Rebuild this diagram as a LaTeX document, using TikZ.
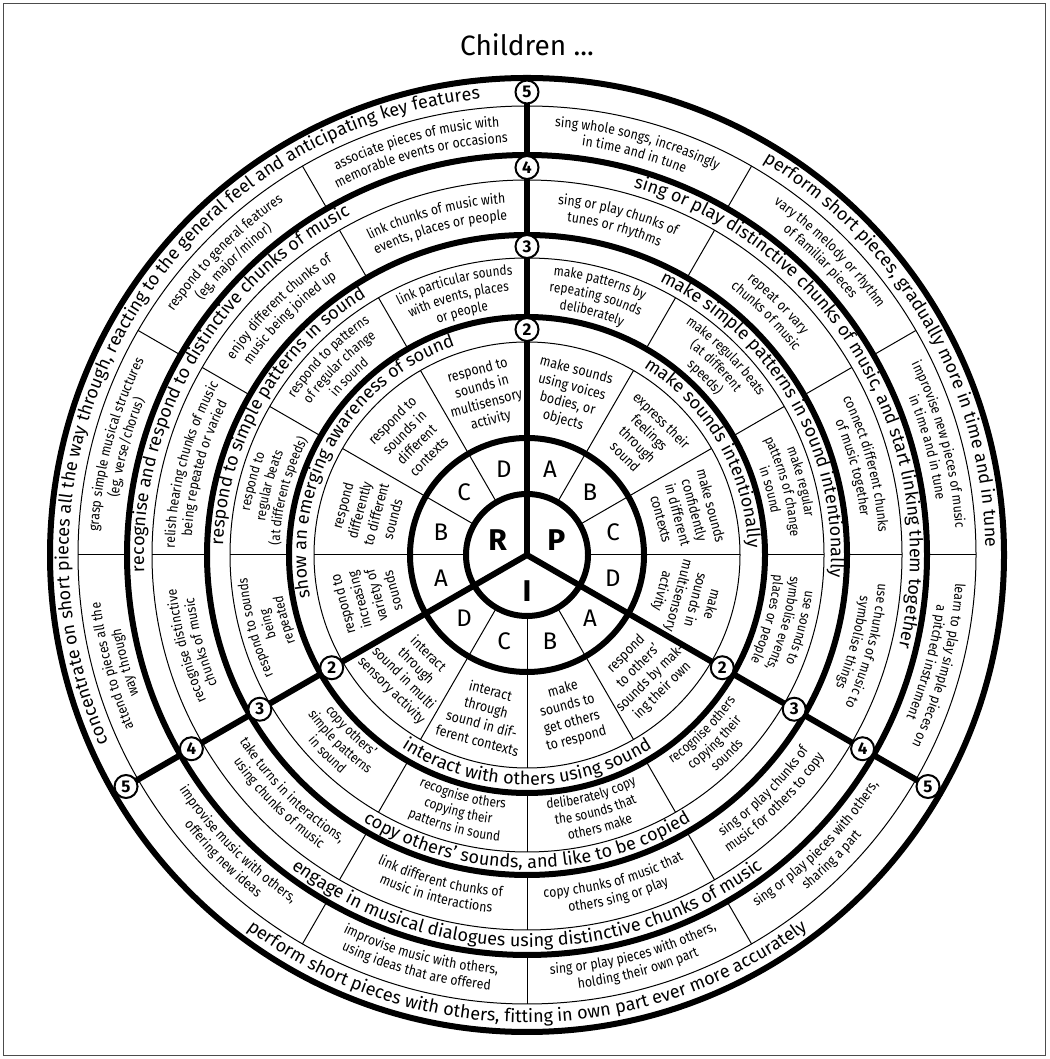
\documentclass[tikz,border=0pt]{standalone}
\usepackage{fontspec}
\setmainfont{Fira Sans}
\newfontfamily\condA{Fira Sans}[FakeStretch=0.88]
\newfontfamily\condB{Fira Sans}[FakeStretch=0.86]
\newfontfamily\condC{Fira Sans}[FakeStretch=0.88]
\usetikzlibrary{decorations.text}
\newcommand\fBand{\fontsize{18}{20}\selectfont}
\newcommand\fCellII{\condA\fontsize{14.2}{17.2}\selectfont}
\newcommand\fCellIII{\condB\fontsize{13.8}{16}\selectfont}
\newcommand\fCellIV{\condC\fontsize{14}{16}\selectfont}
\newcommand\fCellV{\condC\fontsize{14}{16}\selectfont}
% one line of text along an arc: #1 dir (1 = clockwise, tops outward; -1 = ccw, tops inward)
% #2 centre angle, #3 baseline radius, #4 half span, #5 font, #6 text
\newcommand\arcln[6]{%
  \pgfmathsetmacro\aS{#2+(#1)*(#4)}%
  \pgfmathsetmacro\aE{#2-(#1)*(#4)}%
  \path[decorate,decoration={text along path,text align=center,text={|#5|#6}}]
    (\aS:#3) arc[start angle=\aS,end angle=\aE,radius=#3];}
\newcommand\celline[4]{%
  \pgfmathsetmacro\rb{\rmid+(#1)*((#3)*\ls-\xh)}%
  \arcln{#1}{#2}{\rb}{\hs}{\cf}{#4}}
\newcommand\ctwo[4]{\celline{#1}{#2}{0.5}{#3}\celline{#1}{#2}{-0.5}{#4}}
\newcommand\cthree[5]{\celline{#1}{#2}{1}{#3}\celline{#1}{#2}{0}{#4}\celline{#1}{#2}{-1}{#5}}
\begin{document}
\begin{tikzpicture}[x=1pt,y=1pt,
  thickln/.style={line width=6pt},
  thinln/.style={line width=1pt},
  badge/.style={circle,draw,line width=2pt,fill=white,inner sep=0pt,minimum size=23pt,
    font=\fontsize{17}{17}\selectfont\bfseries},
  letter/.style={font=\fontsize{24}{24}\selectfont},
  core/.style={font=\fontsize{30}{30}\selectfont\bfseries},
  cellII/.style={align=center,font=\fCellII}]
\useasboundingbox (0,0) rectangle (1049,1059);
\draw[black!70,line width=1.5pt] (3.5,3.5) rectangle (1045.5,1055.5);
\node[font=\fontsize{28}{32}\selectfont] (title) at (527,1014) {Children ...};
\begin{scope}[shift={(527,504)}]
% thin circles and dividers
\foreach \r in {213,297,375,449} \draw[thinln] (0,0) circle[radius=\r];
\foreach \a in {0,30,60,120,150,180,240,270,300} {
  \draw[thinln] (\a:61) -- (\a:213);
  \draw[thinln] (\a:238) -- (\a:297);
  \draw[thinln] (\a:320) -- (\a:375);
  \draw[thinln] (\a:400) -- (\a:449);
}
% thick circles and spokes
\foreach \r in {61,117,238,320,400,477} \draw[thickln] (0,0) circle[radius=\r];
\foreach \a in {90,210,330} \draw[thickln,line cap=round] (0,0) -- (\a:477);
% badges
\foreach \a in {90,210,330} {
  \node[badge] (b2-\a) at (\a:225.5) {2};
  \node[badge] (b3-\a) at (\a:308.5) {3};
  \node[badge] (b4-\a) at (\a:387.5) {4};
  \node[badge] (b5-\a) at (\a:463) {5};
}
% core
\node[core] (R) at (153:33) {R};
\node[core] (P) at (27:33) {P};
\node[core] (I) at (270:36) {I};
\foreach \a/\l [count=\i] in {195/A,165/B,135/C,105/D,75/A,45/B,15/C,-15/D,-45/A,-75/B,-105/C,-135/D}
  \node[letter] (L\i) at (\a:89) {\l};
% level 2 cells
\node[cellII,rotate=105] (c2ra) at (195:165) {respond to\\increasing\\variety of\\sounds};
\node[cellII,rotate=75] (c2rb) at (165:165) {respond\\differently\\to different\\sounds};
\node[cellII,rotate=45] (c2rc) at (135:165) {respond to\\sounds in\\different\\contexts};
\node[cellII,rotate=15] (c2rd) at (105:165) {respond to\\sounds in\\multisensory\\activity};
\node[cellII,rotate=-15] (c2pa) at (75:165) {make sounds\\using voices\\bodies, or\\objects};
\node[cellII,rotate=-45] (c2pb) at (45:165) {express their\\feelings\\through\\sound};
\node[cellII,rotate=-75] (c2pc) at (15:165) {make sounds\\confidently\\in different\\contexts};
\node[cellII,rotate=-105] (c2pd) at (-15:165) {make\\sounds in\\multisensory\\activity};
\node[cellII,rotate=45] (c2ia) at (-45:166) {respond\\to others’\\sounds by mak-\\ing their own};
\node[cellII,rotate=15] (c2ib) at (-75:165) {make\\sounds to\\get others\\to respond};
\node[cellII,rotate=-15] (c2ic) at (-105:166) {interact\\through\\sound in dif-\\ferent contexts};
\node[cellII,rotate=-45] (c2id) at (-135:166) {interact\\through\\sound in multi\\sensory activity};
% band labels
\arcln{1}{150}{458.5}{57}{\fBand}{concentrate on short pieces all the way through, reacting to the general feel and anticipating key features}
\arcln{1}{30}{458.5}{57}{\fBand}{perform short pieces, gradually more in time and in tune}
\arcln{-1}{270}{467.5}{57}{\fBand}{perform short pieces with others, fitting in own part ever more accurately}
\arcln{1}{150}{383}{57}{\fBand}{recognise and respond to distinctive chunks of music}
\arcln{1}{30}{383}{57}{\fBand}{sing or play distinctive chunks of music, and start linking them together}
\arcln{-1}{270}{392}{57}{\fBand}{engage in musical dialogues using distinctive chunks of music}
\arcln{1}{150}{304}{57}{\fBand}{respond to simple patterns in sound}
\arcln{1}{30}{304}{57}{\fBand}{make simple patterns in sound intentionally}
\arcln{-1}{270}{313}{57}{\fBand}{copy others’ sounds, and like to be copied}
\arcln{1}{150}{221}{57}{\fBand}{show an emerging awareness of sound}
\arcln{1}{30}{221}{57}{\fBand}{make sounds intentionally}
\arcln{-1}{270}{230}{57}{\fBand}{interact with others using sound}
% level 3 cells
\def\rmid{267.5}\def\ls{16.5}\def\xh{3.4}\def\hs{14.5}\def\cf{\fCellIII}
\cthree{1}{195}{respond to sounds}{being}{repeated}
\cthree{1}{165}{respond to}{regular beats}{(at different speeds)}
\cthree{1}{135}{respond to patterns}{of regular change}{in sound}
\cthree{1}{105}{link particular sounds}{with events, places}{or people}
\cthree{1}{75}{make patterns by}{repeating sounds}{deliberately}
\cthree{1}{45}{make regular beats}{(at different}{speeds)}
\cthree{1}{15}{make regular}{patterns of change}{in sound}
\cthree{1}{-15}{use sounds to}{symbolise events,}{places or people}
\cthree{-1}{-45}{recognise others}{copying their}{sounds}
\cthree{-1}{-75}{deliberately copy}{the sounds that}{others make}
\cthree{-1}{-105}{recognise others}{copying their}{patterns in sound}
\cthree{-1}{-135}{copy others’}{simple patterns}{in sound}
% level 4 cells
\def\rmid{347.5}\def\ls{16.5}\def\xh{3.5}\def\hs{14.5}\def\cf{\fCellIV}
\ctwo{1}{195}{recognise distinctive}{chunks of music}
\ctwo{1}{165}{relish hearing chunks of music}{being repeated or varied}
\ctwo{1}{135}{enjoy different chunks of}{music being joined up}
\ctwo{1}{105}{link chunks of music with}{events, places or people}
\ctwo{1}{75}{sing or play chunks of}{tunes or rhythms}
\ctwo{1}{45}{repeat or vary}{chunks of music}
\ctwo{1}{15}{connect different chunks}{of music together}
\ctwo{1}{-15}{use chunks of music to}{symbolise things}
\ctwo{-1}{-45}{sing or play chunks of}{music for others to copy}
\ctwo{-1}{-75}{copy chunks of music that}{others sing or play}
\ctwo{-1}{-105}{link different chunks of}{music in interactions}
\ctwo{-1}{-135}{take turns in interactions,}{using chunks of music}
% level 5 cells
\def\rmid{424.5}\def\ls{16.5}\def\xh{3.5}\def\hs{14.5}\def\cf{\fCellV}
\ctwo{1}{195}{attend to pieces all the}{way through}
\ctwo{1}{165}{grasp simple musical structures}{(eg, verse/chorus)}
\ctwo{1}{135}{respond to general features}{(eg, major/minor)}
\ctwo{1}{105}{associate pieces of music with}{memorable events or occasions}
\ctwo{1}{75}{sing whole songs, increasingly}{in time and in tune}
\ctwo{1}{45}{vary the melody or rhythm}{of familiar pieces}
\ctwo{1}{15}{improvise new pieces of music}{in time and in tune}
\ctwo{1}{-15}{learn to play simple pieces on}{a pitched instrument}
\ctwo{-1}{-45}{sing or play pieces with others,}{sharing a part}
\ctwo{-1}{-75}{sing or play pieces with others,}{holding their own part}
\ctwo{-1}{-105}{improvise music with others,}{using ideas that are offered}
\ctwo{-1}{-135}{improvise music with others,}{offering new ideas}
\end{scope}
\end{tikzpicture}
\end{document}
